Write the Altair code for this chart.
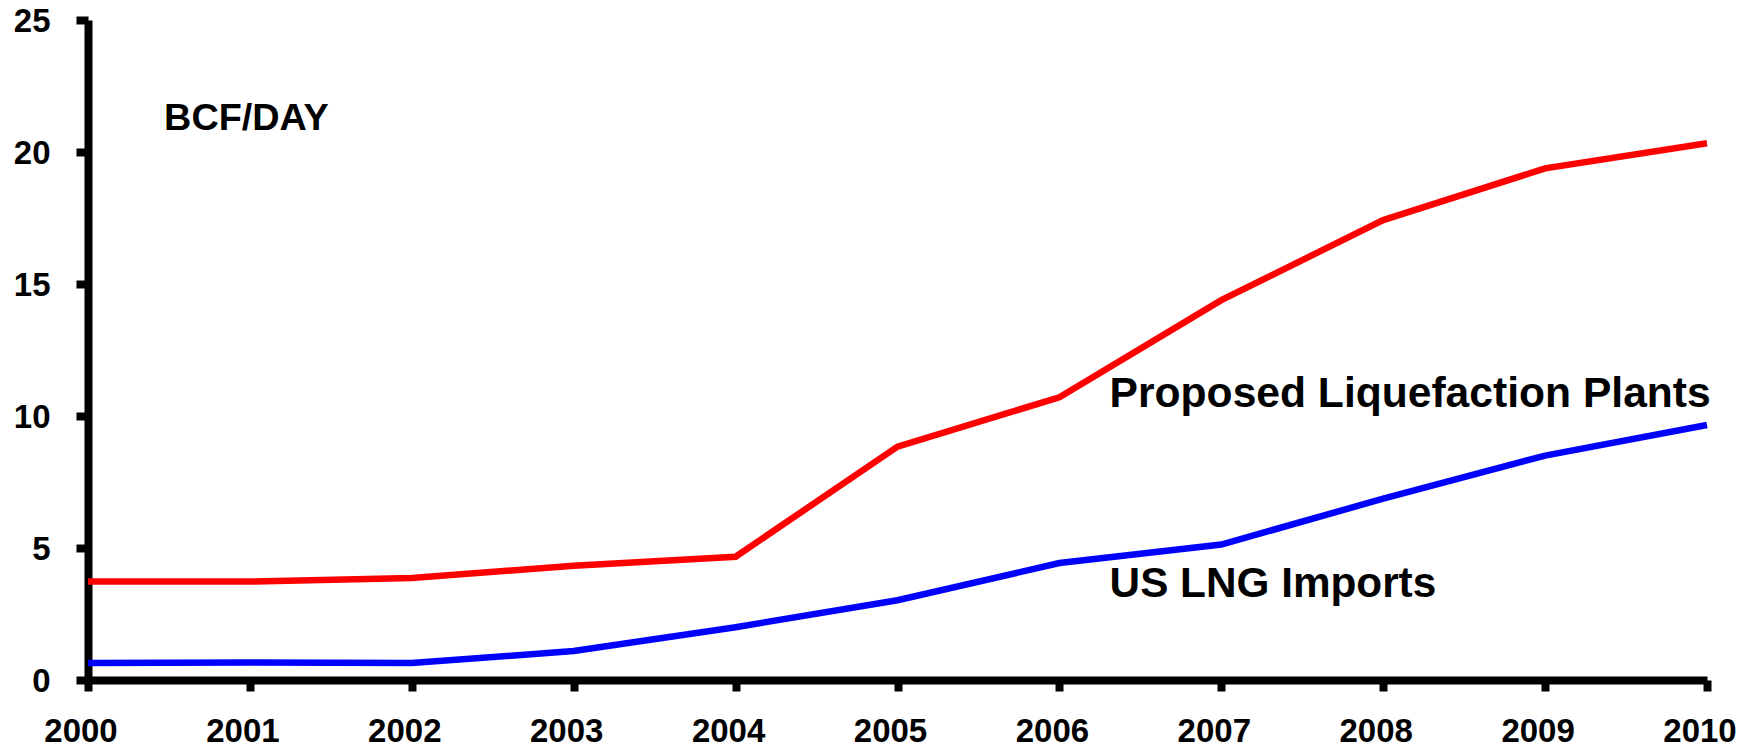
import altair as alt
import pandas as pd

years = [2000, 2001, 2002, 2003, 2004, 2005, 2006, 2007, 2008, 2009, 2010]
liquefaction = [3.73, 3.73, 3.86, 4.33, 4.67, 8.84, 10.71, 14.39, 17.42, 19.38, 20.33]
lng_imports = [0.64, 0.66, 0.64, 1.10, 2.00, 3.02, 4.43, 5.13, 6.87, 8.50, 9.66]
series_names = ["Proposed Liquefaction Plants", "US LNG Imports"]
series_colors = ["#FF0000", "#0000FF"]
y_ticks = [0, 5, 10, 15, 20, 25]

label_text = ["BCF/DAY", "Proposed Liquefaction Plants", "US LNG Imports"]
label_x = [2000.47, 2006.31, 2006.31]
label_y = [20.83, 10.34, 3.14]
label_size = [37.8, 42.6, 42.3]

rows = []
for name, vals in zip(series_names, [liquefaction, lng_imports]):
    for yr, v in zip(years, vals):
        rows.append({"year": yr, "value": v, "series": name})
df = pd.DataFrame(rows)
labels = pd.DataFrame({"text": label_text, "x": label_x, "y": label_y, "size": label_size})
year_labels = pd.DataFrame({"year": years, "label": [str(y) for y in years]})

FONT = "Liberation Sans"

x_scale = alt.Scale(domain=[2000, 2010], nice=False, zero=False)
y_scale = alt.Scale(domain=[0, 25], nice=False)

lines = alt.Chart(df).mark_line(strokeWidth=6.5).encode(
    x=alt.X("year:Q", scale=x_scale,
            axis=alt.Axis(values=years, format="d", title=None, tickSize=11, labels=False)),
    y=alt.Y("value:Q", scale=y_scale,
            axis=alt.Axis(values=y_ticks, title=None, tickSize=12, labelOffset=1.5,
                          labelPadding=26, labelFontSize=33)),
    color=alt.Color("series:N", scale=alt.Scale(domain=series_names, range=series_colors), legend=None),
    detail="series:N",
)

xlabels = alt.Chart(year_labels).mark_text(
    align="center", baseline="alphabetic", font=FONT, fontWeight="bold", color="black",
    fontSize=33, dx=-7, dy=62,
).encode(
    x=alt.X("year:Q", scale=x_scale),
    y=alt.datum(0),
    text="label:N",
)

texts = alt.Chart(labels).mark_text(
    align="left", baseline="alphabetic", font=FONT, fontWeight="bold", color="black"
).encode(
    x=alt.X("x:Q", scale=x_scale),
    y=alt.Y("y:Q", scale=y_scale),
    text="text:N",
    size=alt.Size("size:Q", scale=None, legend=None),
)

chart = alt.layer(lines, xlabels, texts).properties(
    width=1619,
    height=660,
    autosize=alt.AutoSizeParams(type="none"),
    padding={"left": 80, "top": 12, "right": 40, "bottom": 69},
).configure_view(stroke=None).configure_axis(
    domainColor="black", domainWidth=8, tickColor="black", tickWidth=8,
    labelFont=FONT, labelFontWeight="bold", labelColor="black", grid=False,
)

chart.save("out.html", embed_options={"renderer": "svg", "actions": False})
